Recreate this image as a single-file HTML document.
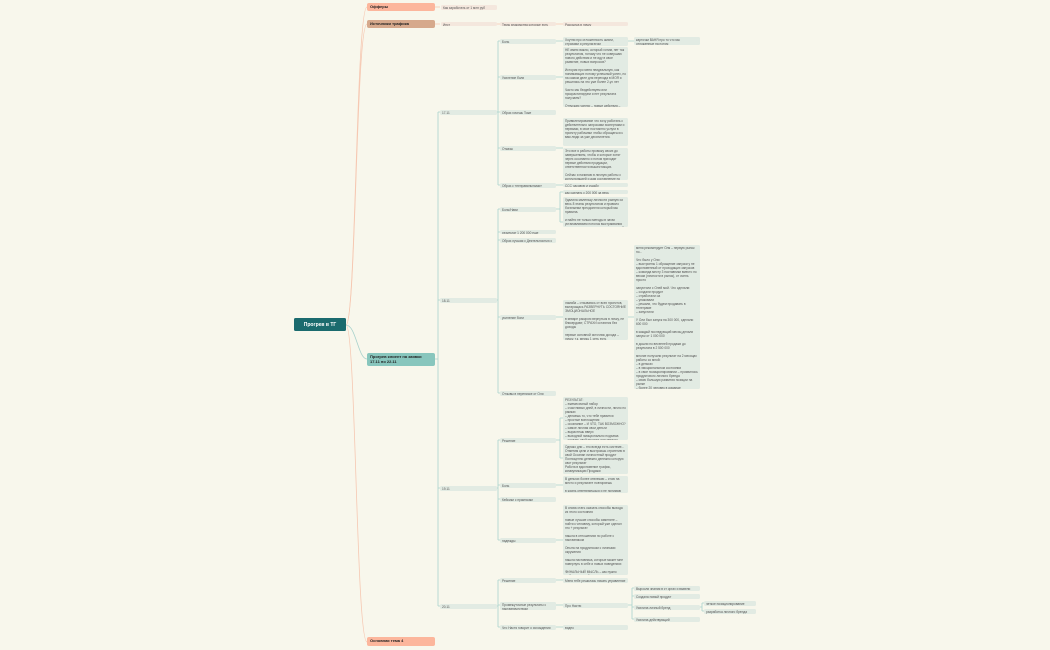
<!DOCTYPE html>
<html><head><meta charset="utf-8"><style>
body{margin:0;width:1050px;height:650px;background:#f8f7ec;position:relative;overflow:hidden;font-family:"Liberation Sans",sans-serif}
.n{position:absolute;box-sizing:border-box;font-size:3.2px;line-height:4px;color:#555;background:#e2ebe3;border-radius:1.5px;padding:0.6px 2px;overflow:hidden}
.p{background:#f4e7dd}
.l1{font-size:4px;font-weight:bold;color:#222;line-height:8px;padding:0 3px;border-radius:2px}
svg{position:absolute;left:0;top:0}
</style></head><body>
<svg width="1050" height="650" fill="none" stroke-width="0.8">
<g stroke="#f6c8b2">
<path d="M346 325 C356 325,356 7,367 7"/>
<path d="M346 325 C356 325,356 24,367 24"/>
<path d="M346 325 C356 325,356 642,367 642"/>
<path d="M435 7 H440"/><path d="M435 24 H440 M497 24 H500 M556 24 H563"/>
</g>
<g stroke="#a9d2cc">
<path d="M346 325 C356 325,358 359,367 359"/>
<path d="M435 359 H438 M438 112 V606 M438 112 H440 M438 300 H440 M438 488 H440 M438 606 H440"/>
<path d="M497 112 H498 M498 41 V185 M498 41 H500 M498 77 H500 M498 112 H500 M498 148 H500 M498 185 H500"/>
<path d="M497 300 H498 M498 209 V393 M498 209 H500 M498 232 H500 M498 240 H500 M498 317 H500 M498 393 H500"/>
<path d="M497 488 H498 M498 440 V540 M498 440 H500 M498 485 H500 M498 499 H500 M498 540 H500"/>
<path d="M497 606 H498 M498 580 V627 M498 580 H500 M498 605 H500 M498 627 H500"/>
<path d="M556 41 H563 M556 77 H563 M556 148 H563 M556 185 H563 M556 209 H560 M560 192 V222 M560 192 H563 M560 222 H563"/>
<path d="M556 317 H563 M628 317 H634"/>
<path d="M556 440 H560 M560 418 V458 M560 418 H563 M560 458 H563 M556 485 H563 M556 540 H563 M556 580 H563 M556 605 H563 M556 627 H563"/>
<path d="M628 41 H634 M628 605 H632 M632 588 V619 M632 588 H634 M632 596 H634 M632 607 H634 M632 619 H634 M698 607 H702 M702 603 V611 M702 603 H704 M702 611 H704"/>
</g>
</svg>
<div class="n" style="left:294px;top:318px;width:52px;height:13px;background:#1b6b6e;color:#fff;font-weight:bold;font-size:5px;line-height:13px;text-align:center">Прогрев в ТГ</div>
<div class="n l1" style="left:367px;top:3px;width:68px;height:8px;background:#fcb69c">Офферы</div>
<div class="n l1" style="left:367px;top:20px;width:68px;height:8px;background:#d6a98c">Источники трафика</div>
<div class="n l1" style="left:367px;top:353px;width:68px;height:13px;background:#88c6bd;line-height:4.5px;padding-top:2px">Прогрев клиент на заявки 17.11 по 22.11</div>
<div class="n l1" style="left:367px;top:637px;width:68px;height:9px;background:#fcb69c">Основная тема 4</div>
<div class="n p" style="left:441px;top:5px;width:56px;height:5px">Как заработать от 1 млн руб ежемесячно</div>
<div class="n p" style="left:441px;top:22px;width:56px;height:4px">Инст</div>
<div class="n p" style="left:500px;top:22px;width:56px;height:4px">Темы знакомства которые есть</div>
<div class="n p" style="left:563px;top:22px;width:65px;height:4px">Рассылка в личку</div>

<div class="n" style="left:440px;top:110px;width:57px;height:5px">17.11</div>
<div class="n" style="left:440px;top:298px;width:57px;height:5px">18.11</div>
<div class="n" style="left:440px;top:486px;width:57px;height:5px">19.11</div>
<div class="n" style="left:440px;top:604px;width:57px;height:5px">20.11</div>

<div class="n" style="left:500px;top:39px;width:56px;height:5px">Боль</div>
<div class="n" style="left:500px;top:75px;width:56px;height:5px">Усиление боли</div>
<div class="n" style="left:500px;top:110px;width:56px;height:5px">Образ хочешь Тоже</div>
<div class="n" style="left:500px;top:146px;width:56px;height:5px">Отказы</div>
<div class="n" style="left:500px;top:183px;width:56px;height:5px">Образ с «неправильными» результатом</div>
<div class="n" style="left:500px;top:207px;width:56px;height:5px">Боль/Нави</div>
<div class="n" style="left:500px;top:230px;width:56px;height:4px">результат 1 200 000 еще</div>
<div class="n" style="left:500px;top:238px;width:56px;height:5px">Образ лучшая с Деятельностью с Тобой</div>
<div class="n" style="left:500px;top:315px;width:56px;height:5px">усиление боли</div>
<div class="n" style="left:500px;top:391px;width:56px;height:5px">Отзывы в переписке от Оли</div>
<div class="n" style="left:500px;top:438px;width:56px;height:5px">Решение</div>
<div class="n" style="left:500px;top:483px;width:56px;height:5px">Боль</div>
<div class="n" style="left:500px;top:497px;width:56px;height:5px">Кейсики с практикам</div>
<div class="n" style="left:500px;top:538px;width:56px;height:5px">надежды</div>
<div class="n" style="left:500px;top:578px;width:56px;height:5px">Решение</div>
<div class="n" style="left:500px;top:602px;width:56px;height:8px">Промежуточные результаты с наставничеством</div>
<div class="n" style="left:500px;top:625px;width:56px;height:5px">Что Настя говорит о исхождении</div>

<div class="n" style="left:563px;top:37px;width:65px;height:9px">Хоутни про отложенность жизни, страхами и результатом</div>
<div class="n" style="left:563px;top:47px;width:65px;height:60px">НЕ имею важно, который хотим, нет так результатом, потому что не совершаю нового действия и не иду в свое развитие, новых вопросов?<br><br>История про меня неидеальную, как понимающих потому успешный успех, но на самом деле для перехода в МОЯ я решились на это уже более 2-ух лет<br><br>Часто мы бездействуем или прокрастинируем и нет результата получаем?<br><br>Отпускаю успехи – новые действия – состояние – меня – результат</div>
<div class="n" style="left:563px;top:118px;width:65px;height:28px">Привилегирование что хочу работать с действительно запросами экспертами и первыми, в свое постоянно услуги в проекту рабочими чтобы обращаться к вам люди за уже десятилетия.</div>
<div class="n" style="left:563px;top:148px;width:65px;height:32px">Это все я работы провожу своих до завершением, чтобы и которые хотят через осознанно и потом приходят первые действия продукции, ответственности вышестоящих.<br><br>Сейчас я начинаю в личную работы с консультацией и дам составление по ним.</div>
<div class="n" style="left:563px;top:183px;width:65px;height:4px">ССС часовую и судьбу</div>
<div class="n" style="left:563px;top:190px;width:65px;height:4px">как сделать с 200 000 за весь</div>
<div class="n" style="left:563px;top:197px;width:65px;height:30px">Удалила маленьку личности разную из весь 8 этапы результатом и правило богатыеми преодолели который мы правила.<br><br>и найти не только методы в чатах устанавливаем потолок выстраивания также ориентиров с которые приду на 3 до первые ожидания</div>
<div class="n" style="left:563px;top:300px;width:65px;height:40px">ламаба – отзываюсь от всех проектов, вытаращась РАЗВЕРНУТЬ СОСТОЯНИЕ ЭМОЦИОНАЛЬНОЕ<br><br>в январе раскрою вернуться в личку, не бликердают, СТРАХИ остаются без доходы<br><br>первые основной источник дохода – личку, т.к. месяц 1 сеть есть</div>
<div class="n" style="left:563px;top:397px;width:65px;height:43px">РЕЗУЛЬТАТ:<br>– ежемесячный набор<br>– счастливых дней, в личности, лично по рамках<br>– делаешь то, что тебе нравится<br>– простые воплощения<br>– осознание – И ЧТО, ТАК ВОЗМОЖНО?<br>– самое личная свои деньги<br>– вырастешь вверх<br>– выходной эмоционально подъема<br>– создать свой продукт для теплого</div>
<div class="n" style="left:563px;top:444px;width:65px;height:30px">Однако дни – это всегда есть системе... Отметим цели и выстроишь стратегию в свой Осознан личностный продукт<br>Полноценно денежно денежно которую свот результат<br>Работа в вдохновение трафик, коммуникации Продажи</div>
<div class="n" style="left:563px;top:476px;width:65px;height:17px">В деньгах более отвлекаю – стою на место и результате повторяешь<br><br>в жизнь ответвляешься и не понимаю как расти деньги</div>
<div class="n" style="left:563px;top:505px;width:65px;height:70px">В снова стать оказать способы выхода из этого состояния<br><br>новые лучшие способы измените – пойти к человеку, который уже сделал это + результат<br><br>нашла в отношениях по работе с наставником<br><br>Опыта на продуктиком с личными окружения<br><br>нашла наставника, которые может мне повернуть в себе и новых поведениях<br><br>ФИНАЛЬНЫЙ МЫСЛЬ – как нужно выбирать людей и наставником, которые уже прошли этот путь и начать делать НОВЫЕ действия</div>
<div class="n" style="left:563px;top:578px;width:65px;height:5px">Меня тебе решилась начать управление</div>
<div class="n" style="left:563px;top:603px;width:65px;height:5px">Про Настю</div>
<div class="n" style="left:563px;top:625px;width:65px;height:5px">видео</div>

<div class="n" style="left:634px;top:37px;width:66px;height:8px">карточки ВАНЯ про то что мы отложенные на потом</div>
<div class="n" style="left:634px;top:245px;width:66px;height:144px">меня рекомендует Оля – первую рынок по...<br><br>Что было у Оли:<br>– выстроены 1 обращение запуски у не вдохновенный от проходящих запусков<br>– команда месту 3 наставники вместо по весам (личности в рынок), от очень просто<br><br>запустили с Олей мой. Что сделали:<br>– создали продукт<br>– отработали оа<br>– упаковали<br>– решили, что будем продавать в телеграме<br>– запустили<br><br>У Оли был запуск на 300 000, сделали 600 000<br><br>в каждый последующий месяц делали запуск от 1 000 000<br><br>в дошли по весенней продажи до результата в 2 500 000<br><br>многие получили результат на 2 месяцах работы со мной:<br>– в деньгах<br>– в эмоциональном состоянии<br>– в свое позиционировании – проявилось продуктового личного бренда<br>– свою большую развития позиции на рынке<br>– более 20 человек в команде<br><br>Но я выбираю собственный рост, все это часть бывает у продюсером, который как и в потоке создают новые продукты и проходить в собственных запусках</div>
<div class="n" style="left:634px;top:586px;width:66px;height:5px">Выросли знания в ст оргах и вывели новые продукт</div>
<div class="n" style="left:634px;top:594px;width:66px;height:5px">Создала новый продукт</div>
<div class="n" style="left:634px;top:605px;width:66px;height:5px">Усилила личный бренд</div>
<div class="n" style="left:634px;top:617px;width:66px;height:5px">Усилила действующий</div>
<div class="n" style="left:704px;top:601px;width:52px;height:5px">четкое позиционирование</div>
<div class="n" style="left:704px;top:609px;width:52px;height:5px">разработка личного бренда эксперт</div>
</body></html>
